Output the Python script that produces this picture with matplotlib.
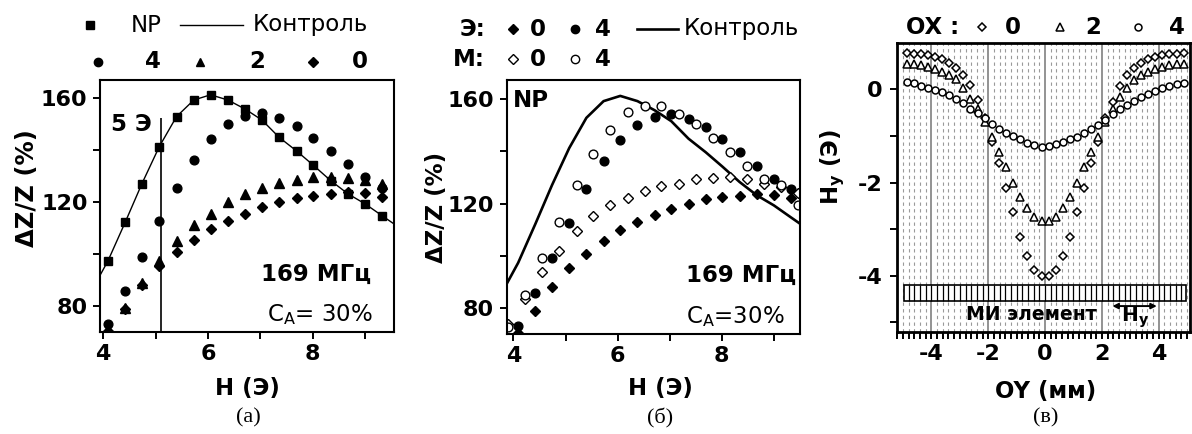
import numpy as np
import matplotlib.pyplot as plt
from matplotlib.lines import Line2D
from matplotlib.patches import Rectangle
from matplotlib.ticker import MultipleLocator

plt.rcParams['font.family'] = 'DejaVu Sans'
plt.rcParams['mathtext.default'] = 'regular'
plt.rcParams['axes.unicode_minus'] = False

# ---- (а) и (б): ΔZ/Z vs H ----
h = [4.09, 4.42, 4.74, 5.07, 5.40, 5.73, 6.05, 6.38, 6.71, 7.03, 7.36, 7.69, 8.01, 8.34, 8.67, 9.00, 9.32]
dz_np = [97.3, 112.2, 127.1, 141.3, 152.9, 159.3, 161.3, 159.3, 155.8, 151.6, 144.9, 139.7, 134.2, 128.3, 123.2, 119.3, 114.8]
control_h = [3.85] + h + [9.55]
control_dz = [88.5] + dz_np + [111.6]
dz_e4 = [73.2, 85.6, 99.0, 112.6, 125.5, 136.3, 144.3, 150.0, 153.3, 154.2, 152.5, 149.4, 144.7, 139.8, 134.5, 129.5, 125.5]
dz_e2 = [71.0, 79.3, 89.0, 97.4, 105.1, 111.0, 115.5, 120.0, 123.2, 125.6, 127.5, 128.7, 129.6, 129.8, 129.2, 128.6, 126.9]
dz_e0 = [70.5, 79.0, 88.0, 95.4, 100.8, 105.6, 109.7, 112.8, 115.5, 118.0, 120.0, 121.6, 122.5, 123.0, 123.7, 123.4, 122.0]

h_m = [3.89, 4.22, 4.55, 4.88, 5.21, 5.53, 5.86, 6.19, 6.52, 6.84, 7.17, 7.50, 7.83, 8.16, 8.48, 8.81, 9.14, 9.47]
dz_m4 = [72.8, 85.1, 99.2, 113.1, 127.0, 139.2, 148.3, 155.0, 157.4, 157.4, 154.3, 150.5, 145.1, 139.7, 134.3, 129.3, 127.0, 119.4]
dz_m0 = [74.0, 83.3, 93.7, 101.9, 109.6, 115.3, 119.4, 122.3, 124.8, 126.7, 127.7, 129.3, 129.9, 130.3, 129.5, 127.4, 126.5, 124.0]

h_line = 5.1
h_line_top = 152.3

# ---- (в): Hy vs OY ----
oy = [-4.875, -4.625, -4.375, -4.125, -3.875, -3.625, -3.375, -3.125, -2.875, -2.625,
      -2.375, -2.125, -1.875, -1.625, -1.375, -1.125, -0.875, -0.625, -0.375, -0.125,
      0.125, 0.375, 0.625, 0.875, 1.125, 1.375, 1.625, 1.875, 2.125, 2.375,
      2.625, 2.875, 3.125, 3.375, 3.625, 3.875, 4.125, 4.375, 4.625, 4.875]
hy_ox0 = [0.785, 0.77, 0.756, 0.735, 0.70, 0.663, 0.57, 0.45, 0.31, 0.09,
          -0.23, -0.62, -1.12, -1.585, -2.12, -2.64, -3.16, -3.57, -3.87, -4.01,
          -4.01, -3.87, -3.57, -3.16, -2.64, -2.12, -1.585, -1.12, -0.62, -0.27,
          0.07, 0.30, 0.45, 0.57, 0.66, 0.70, 0.735, 0.755, 0.77, 0.79]
hy_ox2 = [0.54, 0.54, 0.52, 0.485, 0.43, 0.38, 0.31, 0.215, 0.02, -0.215,
          -0.41, -0.69, -1.015, -1.34, -1.66, -2.0, -2.31, -2.55, -2.74, -2.82,
          -2.82, -2.73, -2.55, -2.31, -2.01, -1.67, -1.34, -1.015, -0.69, -0.41,
          -0.17, 0.02, 0.2, 0.31, 0.38, 0.43, 0.485, 0.52, 0.54, 0.54]
hy_ox4 = [0.163, 0.128, 0.078, 0.035, -0.015, -0.065, -0.12, -0.215, -0.30, -0.41,
          -0.50, -0.62, -0.74, -0.84, -0.93, -1.00, -1.07, -1.14, -1.19, -1.23,
          -1.215, -1.17, -1.12, -1.07, -1.016, -0.94, -0.857, -0.765, -0.658, -0.53,
          -0.43, -0.34, -0.25, -0.17, -0.10, -0.03, 0.02, 0.07, 0.11, 0.14]

W, H = 1192, 434
fig = plt.figure(figsize=(W / 100, H / 100), dpi=100)

def box(l, t, r, b):
    return [l / W, 1 - b / H, (r - l) / W, (b - t) / H]

def ftext(x, y, s, **kw):
    fig.text(x / W, 1 - y / H, s, va='center', **kw)

def key(x, y, **kw):
    fig.add_artist(Line2D([x / W], [1 - y / H], transform=fig.transFigure, color='black', ls='none', **kw))

def kline(x0, x1, y, lw):
    fig.add_artist(Line2D([x0 / W, x1 / W], [1 - y / H] * 2, transform=fig.transFigure, color='black', lw=lw))

def style(ax, lw=1.5, ypad=4):
    for s in ax.spines.values():
        s.set_linewidth(lw)
    ax.tick_params(which='both', direction='out', length=5, width=1.4, labelsize=16)
    ax.tick_params(axis='x', which='both', pad=4)
    ax.tick_params(axis='y', which='both', pad=ypad)
    for t in ax.get_xticklabels() + ax.get_yticklabels():
        t.set_fontweight('bold')

axA = fig.add_axes(box(100, 80, 394, 332))
axB = fig.add_axes(box(506.7, 80, 800, 334))
axC = fig.add_axes(box(897.3, 43.3, 1190, 331.7))

# (а)
axA.plot(control_h, control_dz, color='black', lw=1.0, zorder=2)
axA.plot(h, dz_np, 's', color='black', ms=5.5, zorder=3)
axA.plot(h, dz_e4, 'o', color='black', ms=6.3)
axA.plot(h, dz_e2, '^', color='black', ms=6.8)
axA.plot(h, dz_e0, 'D', color='black', ms=4.9)
axA.vlines(h_line, 60, h_line_top, color='black', lw=1.2)
axA.text(4.93, 149.7, '5 Э', ha='right', va='center', fontsize=16.5, fontweight='bold')
axA.text(9.11, 92.3, '169 МГц', ha='right', va='center', fontsize=16.5, fontweight='bold')
axA.text(9.14, 76.8, 'C$_{A}$= 30%', ha='right', va='center', fontsize=16.5)
axA.set_xlim(3.94, 9.55)
axA.set_ylim(70, 167)

# (б)
axB.plot(control_h, control_dz, color='black', lw=1.9, zorder=2)
axB.plot(h, dz_e0, 'D', color='black', ms=4.9)
axB.plot(h, dz_e4, 'o', color='black', ms=6.3)
axB.plot(h_m, dz_m0, 'D', color='black', mfc='white', mew=1.0, ms=4.9)
axB.plot(h_m, dz_m4, 'o', color='black', mfc='white', mew=1.0, ms=6.3)
axB.text(3.98, 159.6, 'NP', ha='left', va='center', fontsize=16.5, fontweight='bold')
axB.text(9.42, 92.4, '169 МГц', ha='right', va='center', fontsize=16.5, fontweight='bold')
axB.text(9.2, 76.6, 'C$_{A}$=30%', ha='right', va='center', fontsize=16.5)
axB.set_xlim(3.87, 9.5)
axB.set_ylim(70, 167.4)

for ax in (axA, axB):
    ax.xaxis.set_major_locator(MultipleLocator(2))
    ax.xaxis.set_minor_locator(MultipleLocator(1))
    ax.yaxis.set_major_locator(MultipleLocator(40))
    ax.yaxis.set_minor_locator(MultipleLocator(20))
    style(ax)
    ax.set_xlabel('H (Э)', fontsize=16.5, fontweight='bold')
axA.set_ylabel('ΔZ/Z (%)', fontsize=17.5, fontweight='bold')
axB.set_ylabel('ΔZ/Z (%)', fontsize=16.5, fontweight='bold')
axA.xaxis.set_label_coords(0.503, -0.179)
axA.yaxis.set_label_coords(-0.207, 0.57)
axB.xaxis.set_label_coords(0.523, -0.169)
axB.yaxis.set_label_coords(-0.2, 0.5)

# (в)
axC.set_xlim(-5.2, 5.1)
axC.set_ylim(-5.2, 0.99)
axC.xaxis.set_major_locator(MultipleLocator(2))
axC.xaxis.set_minor_locator(MultipleLocator(0.2))
axC.yaxis.set_major_locator(MultipleLocator(2))
axC.yaxis.set_minor_locator(MultipleLocator(1))
axC.grid(which='major', axis='x', color='#8a8a8a', lw=1.3)
axC.grid(which='minor', axis='x', color='#9a9a9a', lw=0.8, ls=(0, (3, 3)))
axC.set_axisbelow(True)
axC.plot(oy, hy_ox0, 'D', color='black', mfc='white', mew=1.1, ms=4.3)
axC.plot(oy, hy_ox2, '^', color='black', mfc='white', mew=1.1, ms=6.3)
axC.plot(oy, hy_ox4, 'o', color='black', mfc='white', mew=1.1, ms=5.0)
axC.add_patch(Rectangle((-4.97, -4.55), 9.94, 0.36, fill=True, fc='white', ec='black', lw=1.2, zorder=3))
axC.vlines(np.arange(-4.8, 4.81, 0.2), -4.55, -4.19, color='black', lw=0.9, zorder=4)
axC.text(-0.47, -4.84, 'МИ элемент', ha='center', va='center', fontsize=13.5, fontweight='bold')
axC.annotate('', xy=(2.27, -4.65), xytext=(4.03, -4.65),
             arrowprops=dict(arrowstyle='<|-|>', color='black', lw=1.4, mutation_scale=8))
axC.text(3.15, -4.9, 'H$_{y}$', ha='center', va='center', fontsize=14.5, fontweight='bold')
style(axC, lw=2.0, ypad=6)
axC.set_xlabel('OY (мм)', fontsize=16.5, fontweight='bold')
axC.set_ylabel('H$_{y}$ (Э)', fontsize=16.5, fontweight='bold')
axC.xaxis.set_label_coords(0.508, -0.167)
axC.yaxis.set_label_coords(-0.172, 0.571)

# legends
kw_t = dict(fontsize=16.5)
key(90, 25, marker='s', ms=5.5)
ftext(131, 25, 'NP', ha='left', **kw_t)
kline(180, 243, 25, 1.0)
ftext(253, 25, 'Контроль', ha='left', **kw_t)
key(98, 62, marker='o', ms=6.0)
ftext(153, 62, '4', ha='center', fontweight='bold', **kw_t)
key(200, 62, marker='^', ms=6.3)
ftext(257, 62, '2', ha='center', fontweight='bold', **kw_t)
key(313, 62, marker='D', ms=4.6)
ftext(360, 62, '0', ha='center', fontweight='bold', **kw_t)

ftext(485, 29, 'Э:', ha='right', fontweight='bold', **kw_t)
key(513, 29, marker='D', ms=4.6)
ftext(538, 29, '0', ha='center', fontweight='bold', **kw_t)
key(575, 29, marker='o', ms=6.0)
ftext(603, 29, '4', ha='center', fontweight='bold', **kw_t)
kline(637, 678, 29, 1.9)
ftext(684, 29, 'Контроль', ha='left', **kw_t)
ftext(485, 59, 'М:', ha='right', fontweight='bold', **kw_t)
key(513, 59, marker='D', ms=4.6, mfc='white', mew=1.0)
ftext(538, 59, '0', ha='center', fontweight='bold', **kw_t)
key(575, 59, marker='o', ms=6.0, mfc='white', mew=1.0)
ftext(603, 59, '4', ha='center', fontweight='bold', **kw_t)

ftext(906, 27, 'OX :', ha='left', fontweight='bold', **kw_t)
key(982, 27, marker='D', ms=4.3, mfc='white', mew=1.1)
ftext(1013, 27, '0', ha='center', fontweight='bold', **kw_t)
key(1060, 27, marker='^', ms=6.0, mfc='white', mew=1.1)
ftext(1093, 27, '2', ha='center', fontweight='bold', **kw_t)
key(1138, 27, marker='o', ms=5.0, mfc='white', mew=1.1)
ftext(1177, 27, '4', ha='center', fontweight='bold', **kw_t)

for x, s in [(248, '(а)'), (660, '(б)'), (1046, '(в)')]:
    ftext(x, 418, s, ha='center', fontsize=16, family='Liberation Serif')

fig.savefig('out.png', dpi=100)
